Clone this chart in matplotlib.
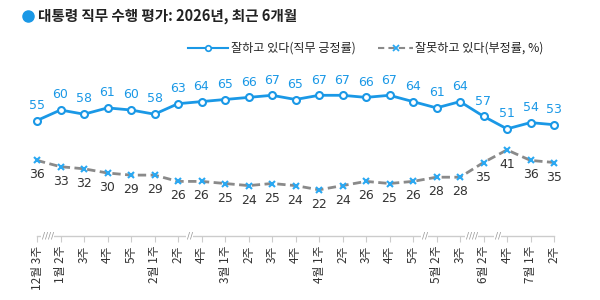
import matplotlib
matplotlib.use("Agg")
import matplotlib.pyplot as plt
from matplotlib.lines import Line2D

plt.rcParams['font.family'] = ['Noto Sans CJK KR', 'DejaVu Sans']

labels = ["12월 3주", "1월 2주", "3주", "4주", "5주", "2월 1주", "2주", "4주",
          "3월 1주", "2주", "3주", "4주", "4월 1주", "2주", "3주", "4주", "5주",
          "5월 2주", "3주", "6월 2주", "4주", "7월 1주", "2주"]
positive = [55, 60, 58, 61, 60, 58, 63, 64, 65, 66, 67, 65, 67, 67, 66, 67, 64,
            61, 64, 57, 51, 54, 53]
negative = [36, 33, 32, 30, 29, 29, 26, 26, 25, 24, 25, 24, 22, 24, 26, 25, 26,
            28, 28, 35, 41, 36, 35]
breaks = [(0.45, "////"), (6.5, "//"), (16.5, "//"), (18.5, "////"), (19.6, "//")]

BLUE = "#1a98e6"
XBLUE = "#2aa8f2"
GRAY = "#8a8a8a"

fig = plt.figure(figsize=(6, 3), dpi=100)
ax = fig.add_axes([37/600, 1-236/300, (554-37)/600, (236-68)/300])
x = list(range(len(labels)))

ax.plot(x, positive, color=BLUE, lw=2, marker='o', ms=5, mfc='white',
        mec=BLUE, mew=1.5, clip_on=False, zorder=3)
ax.plot(x, negative, color=GRAY, lw=2, ls=(0, (3, 1.6)), marker='x', ms=5,
        mec=XBLUE, mew=1.5, clip_on=False, zorder=3)

for xi, v in zip(x, positive):
    ax.annotate(str(v), (xi, v), xytext=(0, 11), textcoords='offset points',
                ha='center', va='center', color=BLUE, fontsize=9,
                family='DejaVu Sans')
for xi, v in zip(x, negative):
    ax.annotate(str(v), (xi, v), xytext=(0, -10.5), textcoords='offset points',
                ha='center', va='center', color='#333333', fontsize=9,
                family='DejaVu Sans')

ax.set_xlim(0, len(labels) - 1)
ax.set_ylim(0, 80)
for s in ['top', 'right', 'left']:
    ax.spines[s].set_visible(False)
ax.spines['bottom'].set_color('#cccccc')
ax.spines['bottom'].set_linewidth(1)
ax.set_yticks([])
ax.set_xticks(x)
ax.set_xticklabels(labels, rotation=90, fontsize=8.5, color='#333333')
ax.tick_params(axis='x', length=4, color='#cccccc', pad=3)

for bx, s in breaks:
    ax.text(bx, 0, s, transform=ax.get_xaxis_transform(), ha='center',
            va='center', fontsize=6.5, color='#999999',
            family='DejaVu Sans', clip_on=False,
            bbox=dict(facecolor='white', edgecolor='none', pad=0.3))

# title
fig.add_artist(Line2D([28/600], [1-16/300], marker='o', ms=8, color=BLUE,
                      transform=fig.transFigure))
fig.text(38/600, 1-16/300, "대통령 직무 수행 평가: 2026년, 최근 6개월",
         ha='left', va='center', fontsize=10.5, fontweight='bold', color='#222222')

# legend
ly = 1 - 48/300
fig.add_artist(Line2D([188/600, 228/600], [ly, ly], color=BLUE, lw=1.5,
                      transform=fig.transFigure))
fig.add_artist(Line2D([208/600], [ly], marker='o', ms=4, mfc='white', mec=BLUE,
                      mew=1.2, transform=fig.transFigure))
fig.text(231/600, ly, "잘하고 있다(직무 긍정률)", ha='left', va='center',
         fontsize=8.7, color='#222222')
fig.add_artist(Line2D([378/600, 413/600], [ly, ly], color=GRAY, lw=1.5,
                      ls=(0, (3, 2)), transform=fig.transFigure))
fig.add_artist(Line2D([395.5/600], [ly], marker='x', ms=4, mec=XBLUE, mew=1.3,
                      transform=fig.transFigure))
fig.text(415/600, ly, "잘못하고 있다(부정률, %)", ha='left', va='center',
         fontsize=8.7, color='#222222')

fig.savefig("out.png", dpi=100, facecolor='white')
